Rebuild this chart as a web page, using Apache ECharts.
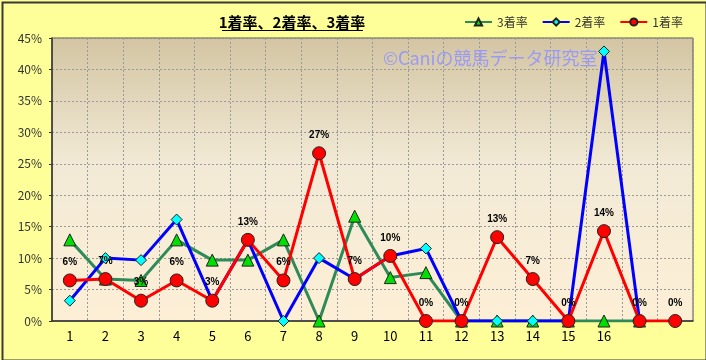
<!DOCTYPE html>
<html><head><meta charset="utf-8">
<script src="https://cdn.jsdelivr.net/npm/echarts@6/dist/echarts.min.js"></script>
<style>html,body{margin:0;padding:0;background:#FFFF99;}#c{width:706px;height:360px;}</style>
</head><body><div id="c"></div>
<script>
const categories = ['1','2','3','4','5','6','7','8','9','10','11','12','13','14','15','16','17','18'];
const tickLabels = ['1','2','3','4','5','6','7','8','9','10','11','12','13','14','15','16','',''];
const rate3 = [12.9, 6.67, 6.45, 12.9, 9.68, 9.68, 12.9, 0, 16.67, 6.9, 7.69, 0, 0, 0, 0, 0, 0, null];
const rate2 = [3.23, 10.0, 9.68, 16.13, 3.23, 12.9, 0, 10.0, 6.67, 10.34, 11.54, 0, 0, 0, 0, 42.86, 0, null];
const rate1 = [6.45, 6.67, 3.23, 6.45, 3.23, 12.9, 6.45, 26.67, 6.67, 10.34, 0, 0, 13.33, 6.67, 0, 14.29, 0, 0];
const yTicks = {min: 0, max: 45, interval: 5};

const FONT = '"Noto Sans CJK JP", "Noto Sans", sans-serif';
const chart = echarts.init(document.getElementById('c'));
chart.setOption({
  backgroundColor: '#FFFF99',
  animation: false,
  textStyle: {fontFamily: FONT},
  legend: {
    data: ['3着率', '2着率', '1着率'],
    left: 459, top: 11,
    itemWidth: 27, itemHeight: 9, itemGap: 14,
    textStyle: {fontSize: 12, color: '#333', fontFamily: FONT}
  },
  grid: {
    left: 52, right: 13, top: 38, bottom: 39,
    show: true,
    borderColor: '#555', borderWidth: 1,
    backgroundColor: new echarts.graphic.LinearGradient(0, 0, 0, 1, [
      {offset: 0, color: '#D3C5A2'},
      {offset: 0.45, color: '#F2EAD6'},
      {offset: 1, color: '#FDEFD6'}
    ])
  },
  xAxis: {
    type: 'category', data: categories, boundaryGap: true,
    axisLine: {lineStyle: {color: '#333', width: 1.5}},
    axisTick: {show: false},
    axisLabel: {color: '#000', fontSize: 13, margin: 9, interval: 0,
      formatter: (v, i) => tickLabels[i]},
    splitLine: {show: true, interval: 0, lineStyle: {color: '#999', type: [2, 2], width: 1}}
  },
  yAxis: {
    type: 'value', min: yTicks.min, max: yTicks.max, interval: yTicks.interval,
    axisLine: {show: true, lineStyle: {color: '#333', width: 1.5}},
    axisTick: {show: true, length: 3, lineStyle: {color: '#333'}},
    axisLabel: {color: '#333', fontSize: 12, margin: 10, formatter: '{value}%'},
    splitLine: {show: true, lineStyle: {color: '#999', type: [2, 2], width: 1}}
  },
  series: [
    {
      name: '3着率', type: 'line', data: rate3,
      symbol: 'triangle', symbolSize: 12,
      lineStyle: {color: '#2E8B57', width: 3},
      itemStyle: {color: '#00E000', borderColor: '#222', borderWidth: 1}
    },
    {
      name: '2着率', type: 'line', data: rate2,
      symbol: 'diamond', symbolSize: 11,
      lineStyle: {color: '#0000FF', width: 3},
      itemStyle: {color: '#00FFFF', borderColor: '#222', borderWidth: 1}
    },
    {
      name: '1着率', type: 'line', data: rate1,
      symbol: 'circle', symbolSize: 13,
      lineStyle: {color: '#FF0000', width: 3},
      itemStyle: {color: '#FF0000', borderColor: '#222', borderWidth: 1},
      label: {show: true, position: 'top', distance: 6, fontSize: 10, fontWeight: 'bold',
        color: '#000', fontFamily: 'Arial, sans-serif',
        formatter: p => Math.round(p.value) + '%'}
    }
  ],
  graphic: [
    {type: 'rect', left: 0, top: 0, z: 100, silent: true,
      shape: {x: 1, y: 1, width: 704, height: 358},
      style: {fill: 'none', stroke: '#3A3A3A', lineWidth: 2}},
    {type: 'text', z: 100, silent: true, x: 292, y: 22,
      style: {text: '1着率、2着率、3着率', font: 'bold 15px ' + FONT, fill: '#000',
        textAlign: 'center', textVerticalAlign: 'middle'}},
    {type: 'line', z: 100, silent: true,
      shape: {x1: 222, y1: 30.5, x2: 363, y2: 30.5},
      style: {stroke: '#000', lineWidth: 1}},
    {type: 'text', z: 100, silent: true, x: 383, y: 58,
      style: {text: '©Caniの競馬データ研究室', font: '18px ' + FONT, fill: '#9A9AF5',
        textAlign: 'left', textVerticalAlign: 'middle'}}
  ]
});
</script></body></html>
